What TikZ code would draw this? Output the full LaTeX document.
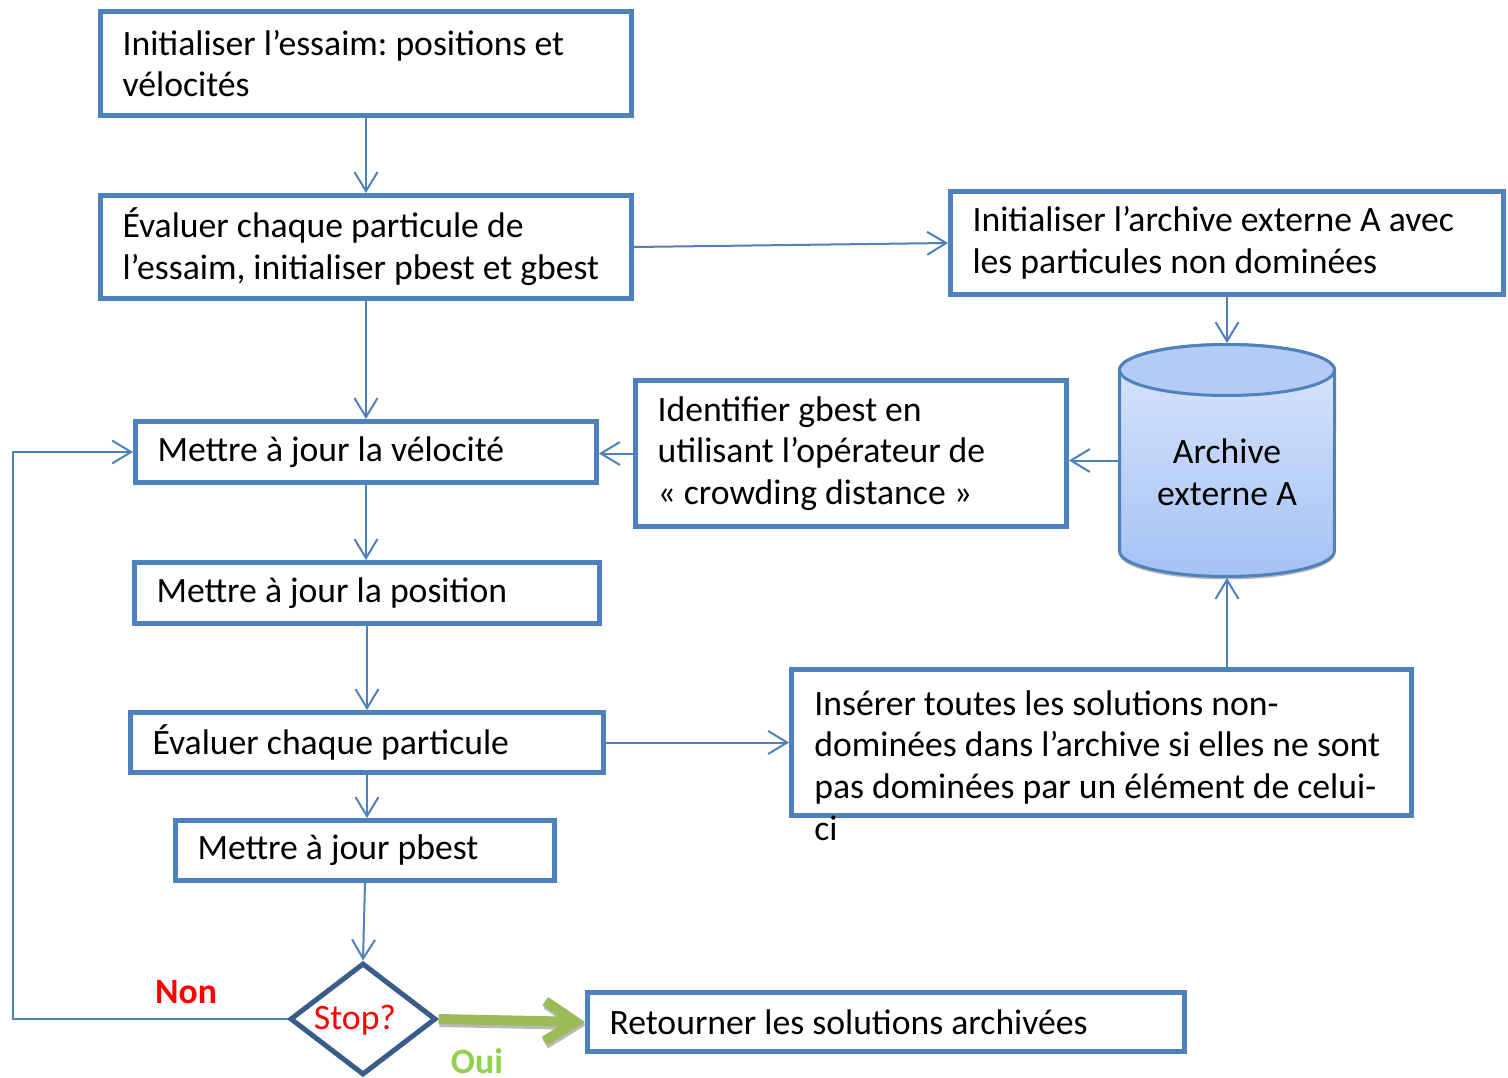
\documentclass[tikz,border=0pt]{standalone}
\usepackage{fontspec}
\setmainfont{Carlito}
\usetikzlibrary{arrows.meta,shapes.geometric,calc}
\definecolor{boxblue}{HTML}{4F81BD}
\definecolor{darkblue}{HTML}{385D8A}
\definecolor{cyltop}{HTML}{B3CCF7}
\definecolor{cylhi}{HTML}{DAE6FB}
\definecolor{cyllo}{HTML}{A5C2F4}
\definecolor{okgreen}{HTML}{9BBB59}
\definecolor{ouigreen}{HTML}{92D050}
\definecolor{nored}{HTML}{FF0000}
\frenchspacing

\begin{document}
\begin{tikzpicture}[x=0.02cm,y=-0.02cm,
  every node/.style={font=\fontsize{20.3pt}{23.8pt}\selectfont},
  stepbox/.style={draw=boxblue,line width=0.1cm,rectangle,align=flush left,
    inner xsep=0.44cm,inner ysep=0pt},
  flow/.style={draw=boxblue,line width=0.04cm,
    -{Straight Barb[length=0.38cm,width=0.46cm]}},
  yesflow/.style={draw=okgreen,line width=0.2cm,
    -{Straight Barb[length=0.62cm,width=0.8cm]}},
]
% canvas
\fill[white] (0,0) rectangle (1508,1078);
\useasboundingbox (0,0) rectangle (1508,1078);

% main column
\node[stepbox,minimum width=10.62cm,minimum height=2.08cm,text width=9.74cm]
  (init) at (366,63.5) {Initialiser l’essaim: positions et\\vélocités};
\node[stepbox,minimum width=10.62cm,minimum height=2.06cm,text width=9.74cm]
  (eval) at (366,247) {Évaluer chaque particule de\\l’essaim, initialiser pbest et gbest};
\node[stepbox,minimum width=9.22cm,minimum height=1.22cm,text width=8.34cm]
  (velo) at (366,452) {Mettre à jour la vélocité};
\node[stepbox,minimum width=9.30cm,minimum height=1.22cm,text width=8.42cm]
  (pos) at (367,593) {Mettre à jour la position};
\node[stepbox,minimum width=9.46cm,minimum height=1.20cm,text width=8.58cm]
  (evalp) at (367,742.5) {Évaluer chaque particule};
\node[stepbox,minimum width=7.58cm,minimum height=1.20cm,text width=6.70cm]
  (pbest) at (365,850.5) {Mettre à jour pbest};
\node[diamond,draw=darkblue,line width=0.1cm,minimum width=2.92cm,
  minimum height=2.24cm,inner sep=0pt] (stop) at (363,1019) {};
\node[text=nored] (stoplbl) at (355,1020) {Stop?};
\node[stepbox,minimum width=11.94cm,minimum height=1.18cm,text width=11.06cm]
  (ret) at (886,1022) {Retourner les solutions archivées};

% archive side
\node[stepbox,minimum width=11.06cm,minimum height=2.06cm,text width=10.18cm]
  (initA) at (1227,243) {Initialiser l’archive externe A avec\\les particules non dominées};
\node[stepbox,minimum width=8.62cm,minimum height=2.92cm,text width=7.74cm]
  (ident) at (851,453.5) {Identifier gbest en\\utilisant l’opérateur de\\«~crowding distance~»};
\node[stepbox,minimum width=12.40cm,minimum height=2.92cm] (insert) at (1101.5,742.5) {};
\node[anchor=base west,inner sep=0pt] (instxt) at (814,715)
  {\parbox[t]{12cm}{Insérer toutes les solutions non-\\dominées dans l’archive si elles ne sont\\pas dominées par un élément de celui-\\ci}};

% archive cylinder
\fill[gray!55,transform canvas={yshift=-0.06cm}]
  (1119.5,520) -- (1119.5,551) arc[start angle=180,end angle=360,x radius=2.15cm,y radius=0.51cm]
  -- (1334.5,520) -- cycle;
\shade[top color=cylhi,bottom color=cyllo,draw=boxblue,line width=0.06cm]
  (1119.5,370) -- (1119.5,551)
  arc[start angle=180,end angle=360,x radius=2.15cm,y radius=0.51cm]
  -- (1334.5,370)
  arc[start angle=0,end angle=180,x radius=2.15cm,y radius=0.51cm] -- cycle;
\filldraw[fill=cyltop,draw=boxblue,line width=0.06cm]
  (1227,370) ellipse[x radius=2.15cm,y radius=0.51cm];
\node[minimum width=4.36cm,minimum height=4.70cm,inner sep=0pt,outer sep=0pt]
  (cyl) at (1227,460.5) {};
\node[align=flush center] (cyltxt) at (1227,472) {Archive\\externe A};

% connectors
\draw[flow] (init.south) -- (eval.north);
\draw[flow] (eval.east) -- (initA.west);
\draw[flow] (eval.south) -- (velo.north);
\draw[flow] (initA.south) -- (cyl.north);
\draw[flow] (cyl.west) -- (cyl.west -| ident.east);
\draw[flow] (ident.west) -- (ident.west -| velo.east);
\draw[flow] (velo.south) -- (velo.south |- pos.north);
\draw[flow] (pos.south) -- (pos.south |- evalp.north);
\draw[flow] (evalp.east) -- (evalp.east -| insert.west);
\draw[flow] (insert.north -| cyl.south) -- (cyl.south);
\draw[flow] (evalp.south) -- (evalp.south |- pbest.north);
\draw[flow] (pbest.south) -- (stop.north);
\coordinate (loopx) at (13,0);
\draw[flow] (stop.west) -- (stop.west -| loopx) |- (velo.west);

% exit arrow with its drop shadow
\draw[yesflow,draw=gray!55,transform canvas={xshift=0.02cm,yshift=-0.06cm}]
  (stop.east) -- (ret.west);
\draw[yesflow] (stop.east) -- (ret.west);

% branch labels
\node[text=nored,font=\fontsize{20.3pt}{23.8pt}\selectfont\bfseries] (nonlbl) at (186,992) {Non};
\node[text=ouigreen,font=\fontsize{20.3pt}{23.8pt}\selectfont\bfseries] (ouilbl) at (477,1061) {Oui};
\end{tikzpicture}
\end{document}
